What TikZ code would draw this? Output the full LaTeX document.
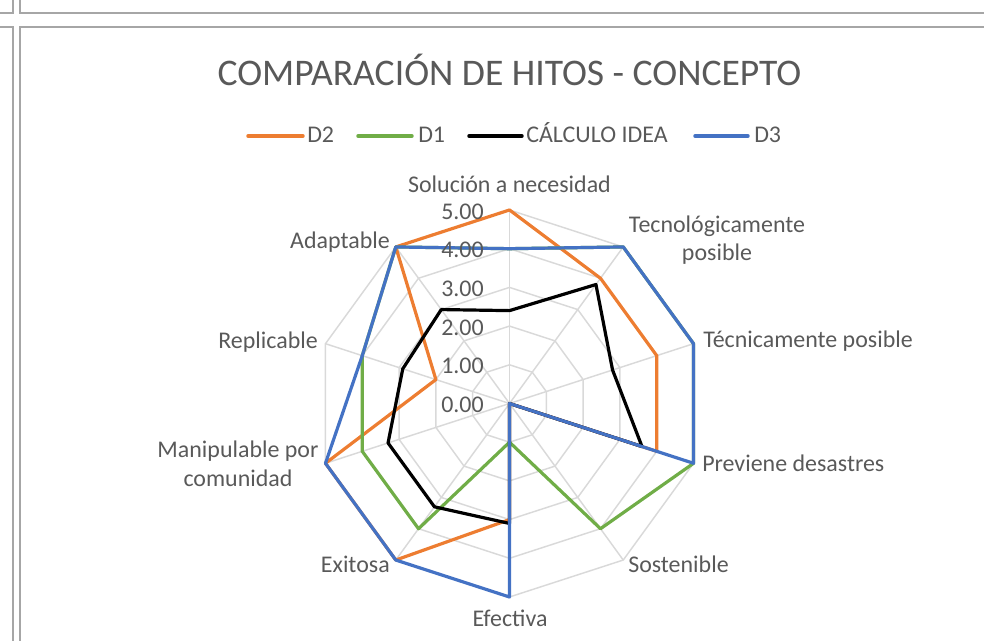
\documentclass[tikz,border=0pt]{standalone}
\usepackage{fontspec}
\setmainfont{Carlito}
\definecolor{orangeD}{HTML}{ED7D31}
\definecolor{greenD}{HTML}{70AD47}
\definecolor{blueD}{HTML}{4472C4}
\definecolor{txtgray}{HTML}{595959}
\definecolor{gridgray}{HTML}{D9D9D9}
\definecolor{framegray}{HTML}{A6A6A6}
\tikzset{
  frameline/.style={draw=framegray, line width=1.5pt},
  gridline/.style={draw=gridgray, line width=1.1pt},
  serie/.style={line width=2.4pt, line join=round},
  legline/.style={line width=2.6pt, line cap=round},
  lbl/.style={text=txtgray, inner sep=0pt, font=\fontsize{17.95pt}{21pt}\selectfont},
  ticklbl/.style={lbl, anchor=east},
  titlelbl/.style={text=txtgray, inner sep=0pt, font=\fontsize{28.2pt}{32pt}\selectfont}
}
\begin{document}
\begin{tikzpicture}[x=0.75pt,y=0.75pt]
\useasboundingbox (0,0) rectangle (984,641);
% frame of the cells
\draw[frameline] (0,627.7) -- (12.7,627.7) -- (12.7,641);
\draw[frameline] (20,641) -- (20,627.7) -- (984,627.7);
\draw[frameline] (0,614) -- (12.7,614) -- (12.7,0);
\draw[frameline] (984,614) -- (20,614) -- (20,0);
% title
\node[titlelbl, anchor=base] (title) at (509.5,555) {COMPARACIÓN DE HITOS - CONCEPTO};
% legend
\draw[legline, orangeD] (248,505) coordinate (l1a) -- (303,505) coordinate (l1b);
\node[lbl, anchor=base west] (lg1) at (307,498) {D2};
\draw[legline, greenD] (358,505) coordinate (l2a) -- (412,505) coordinate (l2b);
\node[lbl, anchor=base west] (lg2) at (418,498) {D1};
\draw[legline, black] (469,505) coordinate (l3a) -- (522,505) coordinate (l3b);
\node[lbl, anchor=base west] (lg3) at (526,498) {CÁLCULO IDEA};
\draw[legline, blueD] (695,505) coordinate (l4a) -- (748,505) coordinate (l4b);
\node[lbl, anchor=base west] (lg4) at (754,498) {D3};
% radar
\coordinate (C) at (509.5,237.5);
\begin{scope}[shift={(C)}, x=29.025pt, y=29.025pt]
  \foreach \r in {1,...,5}
    \draw[gridline] (90:\r) -- (54:\r) -- (18:\r) -- (-18:\r) -- (-54:\r) -- (-90:\r) -- (-126:\r) -- (-162:\r) -- (162:\r) -- (126:\r) -- cycle;
  \foreach \a in {90,54,18,-18,-54,-90,-126,-162,162,126}
    \draw[gridline] (0,0) -- (\a:5);
  % D2
  \draw[serie, orangeD] (90:5) -- (54:4) -- (18:4) -- (-18:4) -- (-54:0) -- (-90:3) -- (-126:5) -- (-162:5) -- (162:2) -- (126:5) -- cycle;
  % D1
  \draw[serie, greenD] (90:4) -- (54:5) -- (18:5) -- (-18:5) -- (-54:4) -- (-90:1) -- (-126:4) -- (-162:4) -- (162:4) -- (126:5) -- cycle;
  % CALCULO IDEA
  \draw[serie, black] (90:2.4) -- (54:3.8) -- (18:2.8) -- (-18:3.6) -- (-54:0) -- (-90:3.1) -- (-126:3.3) -- (-162:3.3) -- (162:2.9) -- (126:3.0) -- cycle;
  % D3
  \draw[serie, blueD] (90:4) -- (54:5) -- (18:5) -- (-18:5) -- (-54:0) -- (-90:5) -- (-126:5) -- (-162:5) -- (162:4) -- (126:5) -- cycle;
\end{scope}
% tick labels
\node[ticklbl] (t0) at (484,236) {0.00};
\node[ticklbl] (t1) at (484,274.7) {1.00};
\node[ticklbl] (t2) at (484,313.4) {2.00};
\node[ticklbl] (t3) at (484,352.1) {3.00};
\node[ticklbl] (t4) at (484,390.8) {4.00};
\node[ticklbl] (t5) at (484,429.5) {5.00};
% category labels
\node[lbl, anchor=base] (c1) at (509.5,448) {Solución a necesidad};
\node[lbl, anchor=base] (c2a) at (717,408) {Tecnológicamente};
\node[lbl, anchor=base] (c2b) at (717,380) {posible};
\node[lbl, anchor=base west] (c3) at (703,293) {Técnicamente posible};
\node[lbl, anchor=base west] (c4) at (702,169) {Previene desastres};
\node[lbl, anchor=base west] (c5) at (628,68) {Sostenible};
\node[lbl, anchor=base] (c6) at (510,14) {Efectiva};
\node[lbl, anchor=base east] (c7) at (390,68) {Exitosa};
\node[lbl, anchor=base] (c8a) at (238,183) {Manipulable por};
\node[lbl, anchor=base] (c8b) at (238,154) {comunidad};
\node[lbl, anchor=base east] (c9) at (318,292) {Replicable};
\node[lbl, anchor=base east] (c10) at (390,392) {Adaptable};
\end{tikzpicture}
\end{document}
